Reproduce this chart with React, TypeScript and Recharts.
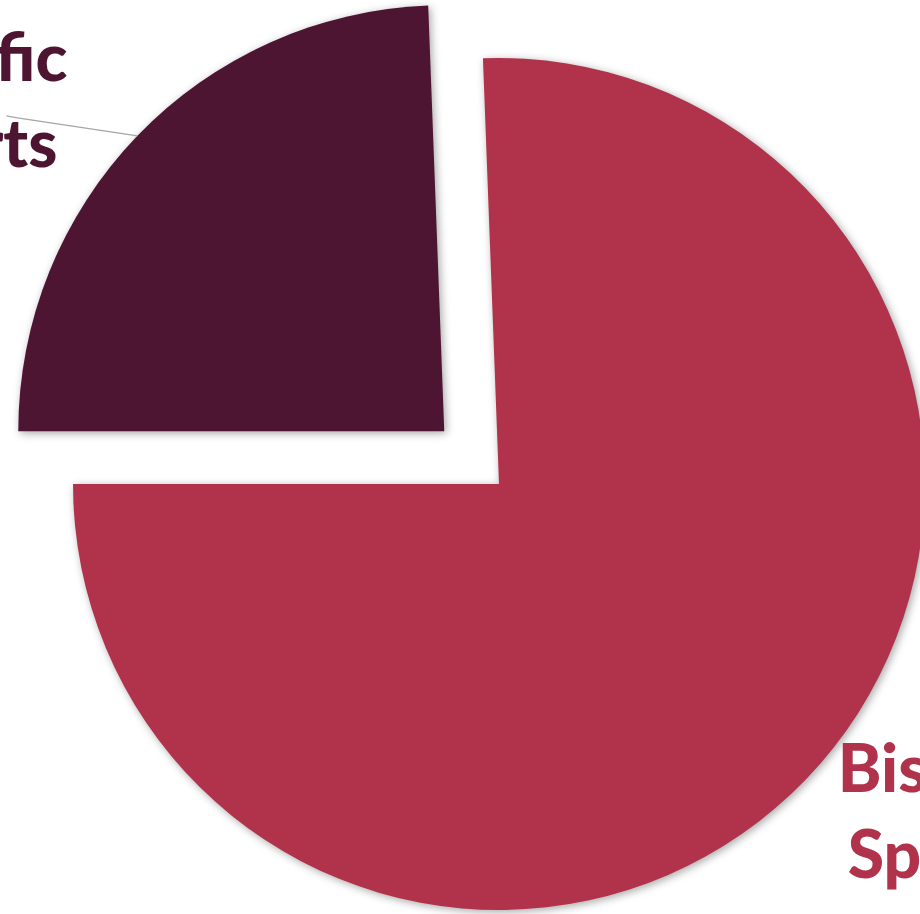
import { Cell, Pie, PieChart } from "recharts";

const CATEGORIES = ["Scientific Experts", "Bisexual Spouses"];
const SHARES = [24.4, 75.6];
const COLORS = ["#4e1533", "#b0334b"];
const EXPLODED = [true, false];

const W = 920;
const H = 914;
const CX = 499;
const CY = 484;
const RADIUS = 426;
const EXPLODE = 76;
const START = 180;
const END = -180;
const RADIAN = Math.PI / 180;

const FONT = "Lato, 'Open Sans', sans-serif";
const FONT_SIZE = 66;
const LINE_H = 86;

// label placement relative to the slice edge at its mid angle (one nudge per text line)
const LABEL_OFFSET = [
  { anchor: "end", dx: [-70, -80, -136], dy: -55, line: true },
  { anchor: "start", dx: [32, 42, 52], dy: 13, line: false },
];

const total = SHARES.reduce((a, b) => a + b, 0);
const data = CATEGORIES.map((name, i) => ({ name, value: SHARES[i] }));

function midAngleOf(i: number) {
  let a = START;
  for (let j = 0; j < i; j++) a -= (360 * SHARES[j]) / total;
  return a - (180 * SHARES[i]) / total;
}

const explodedIdx = EXPLODED.indexOf(true);
const exMid = midAngleOf(explodedIdx);
const CX2 = CX + EXPLODE * Math.cos(exMid * RADIAN);
const CY2 = CY - EXPLODE * Math.sin(exMid * RADIAN);

const shadow = "drop-shadow(2px 2px 4px rgba(0,0,0,0.35))";

function makeLabel(showExploded: boolean) {
  return (props: any) => {
    const { cx, cy, midAngle, outerRadius, index, name, percent } = props;
    if (EXPLODED[index] !== showExploded) return null;
    const ex = cx + outerRadius * Math.cos(-midAngle * RADIAN);
    const ey = cy + outerRadius * Math.sin(-midAngle * RADIAN);
    const off = LABEL_OFFSET[index];
    const ty = ey + off.dy;
    const lines = [...String(name).split(" "), `${Math.round(percent * 100)}%`];
    return (
      <g key={`lbl-${index}`}>
        {off.line ? (
          <polyline
            points={`${ex},${ey} ${ex - 120},${ey - 18} ${ex - 131},${ey - 20}`}
            fill="none"
            stroke="#a6a6a6"
            strokeWidth={1.2}
          />
        ) : null}
        <text
          textAnchor={off.anchor}
          fill={COLORS[index]}
          style={{ fontFamily: FONT, fontSize: FONT_SIZE, fontWeight: 900 }}
        >
          {lines.map((l, k) => (
            <tspan key={k} x={ex + off.dx[k]} y={ty + k * LINE_H}>
              {l}
            </tspan>
          ))}
        </text>
      </g>
    );
  };
}

export default function App() {
  return (
    <div
      style={{
        position: "absolute",
        left: 0,
        top: 0,
        width: W,
        height: H,
        overflow: "hidden",
        background: "#fff",
      }}
    >
      <PieChart width={W} height={H} margin={{ top: 0, right: 0, bottom: 0, left: 0 }}>
        <Pie
          data={data}
          dataKey="value"
          nameKey="name"
          cx={CX}
          cy={CY}
          outerRadius={RADIUS}
          startAngle={START}
          endAngle={END}
          stroke="none"
          labelLine={false}
          label={makeLabel(false)}
          isAnimationActive={false}
        >
          {data.map((d, i) => (
            <Cell
              key={d.name}
              fill={EXPLODED[i] ? "none" : COLORS[i]}
              style={EXPLODED[i] ? undefined : { filter: shadow }}
            />
          ))}
        </Pie>
        <Pie
          data={data}
          dataKey="value"
          nameKey="name"
          cx={CX2}
          cy={CY2}
          outerRadius={RADIUS}
          startAngle={START}
          endAngle={END}
          stroke="none"
          labelLine={false}
          label={makeLabel(true)}
          isAnimationActive={false}
        >
          {data.map((d, i) => (
            <Cell
              key={d.name}
              fill={EXPLODED[i] ? COLORS[i] : "none"}
              style={EXPLODED[i] ? { filter: shadow } : undefined}
            />
          ))}
        </Pie>
      </PieChart>
    </div>
  );
}
